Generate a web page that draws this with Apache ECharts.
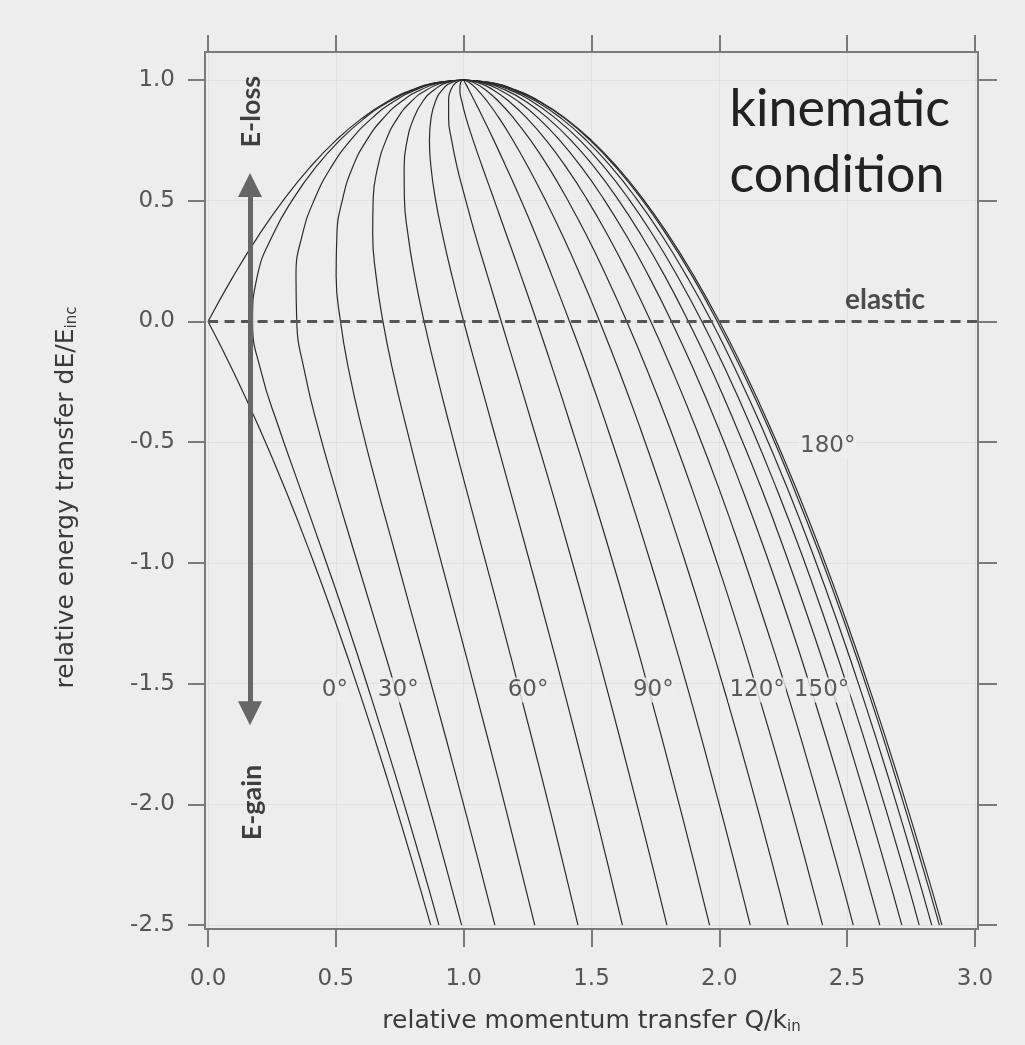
<!DOCTYPE html>
<html>
<head>
<meta charset="utf-8">
<script src="https://cdn.jsdelivr.net/npm/echarts@6/dist/echarts.min.js"></script>
<style>
html, body { margin: 0; padding: 0; background: #ededed; }
#chart { width: 1025px; height: 1045px; }
</style>
</head>
<body>
<div id="chart"></div>
<script>
// relative energy transfer (shared y values of every curve)
var energy = [1, 0.99, 0.96, 0.91, 0.84, 0.75, 0.64, 0.51, 0.36, 0.19, 0, -0.21, -0.44, -0.69, -0.96, -1.25, -1.56, -1.89, -2.24, -2.5];
var angles = [0, 10, 20, 30, 40, 50, 60, 70, 80, 90, 100, 110, 120, 130, 140, 150, 160, 170, 180];

// relative momentum transfer Q/k_in, one list per scattering angle
var q0   = [1, 0.900, 0.800, 0.700, 0.600, 0.500, 0.400, 0.300, 0.200, 0.100, 0.000, 0.100, 0.200, 0.300, 0.400, 0.500, 0.600, 0.700, 0.800, 0.871];
var q10  = [1, 0.902, 0.804, 0.707, 0.610, 0.515, 0.422, 0.334, 0.254, 0.193, 0.174, 0.208, 0.277, 0.360, 0.450, 0.544, 0.639, 0.736, 0.834, 0.903];
var q20  = [1, 0.907, 0.815, 0.725, 0.639, 0.557, 0.482, 0.418, 0.369, 0.344, 0.347, 0.378, 0.430, 0.497, 0.573, 0.656, 0.744, 0.834, 0.926, 0.992];
var q30  = [1, 0.915, 0.833, 0.755, 0.684, 0.620, 0.566, 0.527, 0.504, 0.501, 0.518, 0.552, 0.601, 0.662, 0.732, 0.807, 0.888, 0.972, 1.059, 1.122];
var q40  = [1, 0.926, 0.856, 0.794, 0.740, 0.696, 0.664, 0.646, 0.644, 0.657, 0.684, 0.724, 0.776, 0.836, 0.903, 0.976, 1.053, 1.134, 1.217, 1.278];
var q50  = [1, 0.939, 0.885, 0.839, 0.804, 0.779, 0.767, 0.768, 0.782, 0.808, 0.845, 0.892, 0.947, 1.009, 1.077, 1.150, 1.226, 1.306, 1.388, 1.447];
var q60  = [1, 0.954, 0.917, 0.889, 0.872, 0.866, 0.872, 0.889, 0.917, 0.954, 1.000, 1.054, 1.114, 1.179, 1.249, 1.323, 1.400, 1.480, 1.562, 1.621];
var q70  = [1, 0.970, 0.950, 0.941, 0.941, 0.953, 0.974, 1.006, 1.045, 1.093, 1.147, 1.207, 1.272, 1.342, 1.415, 1.491, 1.570, 1.651, 1.735, 1.795];
var q80  = [1, 0.988, 0.985, 0.993, 1.010, 1.037, 1.073, 1.117, 1.167, 1.224, 1.286, 1.352, 1.422, 1.496, 1.573, 1.652, 1.733, 1.816, 1.901, 1.962];
var q90  = [1, 1.005, 1.020, 1.044, 1.077, 1.118, 1.166, 1.221, 1.281, 1.345, 1.414, 1.487, 1.562, 1.640, 1.720, 1.803, 1.887, 1.972, 2.059, 2.121];
var q100 = [1, 1.022, 1.053, 1.093, 1.140, 1.193, 1.252, 1.316, 1.385, 1.457, 1.532, 1.610, 1.690, 1.772, 1.856, 1.942, 2.029, 2.117, 2.206, 2.269];
var q110 = [1, 1.038, 1.085, 1.138, 1.197, 1.262, 1.331, 1.403, 1.479, 1.557, 1.638, 1.721, 1.806, 1.892, 1.979, 2.068, 2.157, 2.248, 2.339, 2.404];
var q120 = [1, 1.054, 1.114, 1.179, 1.249, 1.323, 1.400, 1.480, 1.562, 1.646, 1.732, 1.819, 1.908, 1.998, 2.088, 2.179, 2.272, 2.364, 2.458, 2.524];
var q130 = [1, 1.067, 1.139, 1.215, 1.294, 1.376, 1.460, 1.546, 1.634, 1.723, 1.813, 1.904, 1.996, 2.088, 2.182, 2.276, 2.370, 2.465, 2.560, 2.628];
var q140 = [1, 1.079, 1.160, 1.245, 1.331, 1.420, 1.510, 1.601, 1.693, 1.786, 1.879, 1.974, 2.068, 2.164, 2.259, 2.355, 2.452, 2.548, 2.645, 2.714];
var q150 = [1, 1.088, 1.177, 1.269, 1.361, 1.455, 1.549, 1.644, 1.739, 1.835, 1.932, 2.029, 2.126, 2.223, 2.321, 2.418, 2.516, 2.614, 2.713, 2.782];
var q160 = [1, 1.095, 1.190, 1.286, 1.383, 1.480, 1.577, 1.675, 1.773, 1.871, 1.970, 2.068, 2.167, 2.266, 2.365, 2.464, 2.563, 2.662, 2.761, 2.831];
var q170 = [1, 1.099, 1.198, 1.297, 1.396, 1.495, 1.594, 1.694, 1.793, 1.893, 1.992, 2.092, 2.192, 2.291, 2.391, 2.491, 2.591, 2.690, 2.790, 2.861];
var q180 = [1, 1.100, 1.200, 1.300, 1.400, 1.500, 1.600, 1.700, 1.800, 1.900, 2.000, 2.100, 2.200, 2.300, 2.400, 2.500, 2.600, 2.700, 2.800, 2.871];
var qByAngle = [q0, q10, q20, q30, q40, q50, q60, q70, q80, q90, q100, q110, q120, q130, q140, q150, q160, q170, q180];

// tick labels
var xTicks = [0, 0.5, 1.0, 1.5, 2.0, 2.5, 3.0];
var yTicks = [-2.5, -2.0, -1.5, -1.0, -0.5, 0, 0.5, 1.0];

// elastic line and annotations (data coordinates)
var elasticQ = [0, 3.012];
var angleText = ['0°', '30°', '60°', '90°', '120°', '150°', '180°'];
var angleQ = [0.496, 0.744, 1.252, 1.742, 2.148, 2.400, 2.424];
var angleE = [-1.526, -1.526, -1.526, -1.526, -1.526, -1.526, -0.516];
var arrowQ = 0.164;
var arrowE = [0.565, -1.622];

var FONT = 'Lato';
var SMALL = 'DejaVu Sans';
var BG = '#ededed';
var frame = {color: '#7a7a7a', width: 2};

function curve(points) {
    return {
        type: 'line',
        data: points,
        smooth: 0.5,
        symbol: 'none',
        silent: true,
        z: 2,
        lineStyle: {color: '#2b2b2b', width: 1.2}
    };
}

var series = [];
angles.forEach(function (a, k) {
    var pts = energy.map(function (e, i) { return [qByAngle[k][i], e]; });
    if (a === 0) {
        // 0° has a corner at the origin
        series.push(curve(pts.slice(0, 11)));
        series.push(curve(pts.slice(10)));
    } else {
        series.push(curve(pts));
    }
});

series.push({
    type: 'line',
    data: elasticQ.map(function (q) { return [q, 0]; }),
    symbol: 'none',
    silent: true,
    z: 3,
    lineStyle: {color: '#555', width: 3, type: [10, 6.5]}
});

series.push({
    type: 'lines',
    coordinateSystem: 'cartesian2d',
    z: 4,
    silent: true,
    symbol: ['triangle', 'triangle'],
    symbolSize: 24,
    lineStyle: {color: '#666', width: 5, opacity: 1},
    data: [{coords: [[arrowQ, arrowE[0]], [arrowQ, arrowE[1]]]}]
});

series.push({
    type: 'scatter',
    symbolSize: 0,
    silent: true,
    z: 5,
    data: angleText.map(function (t, i) { return {name: t, value: [angleQ[i], angleE[i]]}; }),
    label: {
        show: true, position: 'inside', formatter: '{b}',
        fontFamily: SMALL, fontSize: 23, color: '#333',
        backgroundColor: BG, padding: [1, 1]
    }
});

series.push({
    type: 'scatter',
    symbolSize: 0,
    silent: true,
    z: 5,
    data: [{name: 'elastic', value: [2.648, 0.087]}],
    label: {
        show: true, position: 'inside', formatter: '{b}',
        fontFamily: FONT, fontSize: 28, fontWeight: 'bold', color: '#222'
    }
});

series.push({
    type: 'scatter',
    symbolSize: 0,
    silent: true,
    z: 5,
    data: [{name: 'E-loss', value: [0.168, 0.869]}, {name: 'E-gain', value: [0.172, -1.992]}],
    label: {
        show: true, position: 'inside', formatter: '{b}', rotate: 90,
        fontFamily: FONT, fontSize: 27, fontWeight: 'bold', color: '#111'
    }
});

var nameRich = {
    n: {fontFamily: SMALL, fontSize: 25, color: '#3a3a3a', lineHeight: 28},
    s: {fontFamily: SMALL, fontSize: 15, color: '#3a3a3a', lineHeight: 28, verticalAlign: 'bottom', padding: [9, 0, 0, 0]}
};

var chart = echarts.init(document.getElementById('chart'));
chart.setOption({
    backgroundColor: BG,
    animation: false,
    textStyle: {fontFamily: FONT},
    title: {
        text: 'kinematic\ncondition',
        right: 70,
        top: 71,
        textStyle: {fontFamily: FONT, fontSize: 52, fontWeight: 'normal', color: '#222', lineHeight: 66}
    },
    grid: {left: 205, right: 47, top: 52, bottom: 116},
    xAxis: [{
        type: 'value', position: 'bottom', min: -0.012, max: 3.012,
        axisLine: {show: true, onZero: false, lineStyle: frame},
        axisTick: {show: true, length: 18, customValues: xTicks, lineStyle: frame},
        axisLabel: {
            customValues: xTicks, margin: 39, fontSize: 23, color: '#555', fontFamily: SMALL,
            formatter: function (v) { return v.toFixed(1); }
        },
        splitLine: {show: true, lineStyle: {color: 'rgba(0,0,0,0.05)', width: 1}},
        name: '{n|relative momentum transfer Q/k}{s|in}',
        nameLocation: 'middle',
        nameGap: 78,
        nameTextStyle: {rich: nameRich}
    }, {
        type: 'value', position: 'top', min: -0.012, max: 3.012,
        axisLine: {show: true, onZero: false, lineStyle: frame},
        axisTick: {show: true, length: 17, customValues: xTicks, lineStyle: frame},
        axisLabel: {show: false},
        splitLine: {show: false}
    }],
    yAxis: [{
        type: 'value', position: 'left', min: -2.516, max: 1.116,
        axisLine: {show: true, onZero: false, lineStyle: frame},
        axisTick: {show: true, length: 17, customValues: yTicks, lineStyle: frame},
        axisLabel: {
            customValues: yTicks, margin: 30, fontSize: 23, color: '#555', fontFamily: SMALL,
            formatter: function (v) { return v.toFixed(1); }
        },
        splitLine: {show: true, lineStyle: {color: 'rgba(0,0,0,0.05)', width: 1}},
        name: '{n|relative energy transfer dE/E}{s|inc}',
        nameLocation: 'middle',
        nameGap: 125,
        nameRotate: 90,
        nameTextStyle: {padding: [0, 14, 0, 0], rich: nameRich}
    }, {
        type: 'value', position: 'right', min: -2.516, max: 1.116,
        axisLine: {show: true, onZero: false, lineStyle: frame},
        axisTick: {show: true, length: 19, customValues: yTicks, lineStyle: frame},
        axisLabel: {show: false},
        splitLine: {show: false}
    }],
    series: series
});
</script>
</body>
</html>
